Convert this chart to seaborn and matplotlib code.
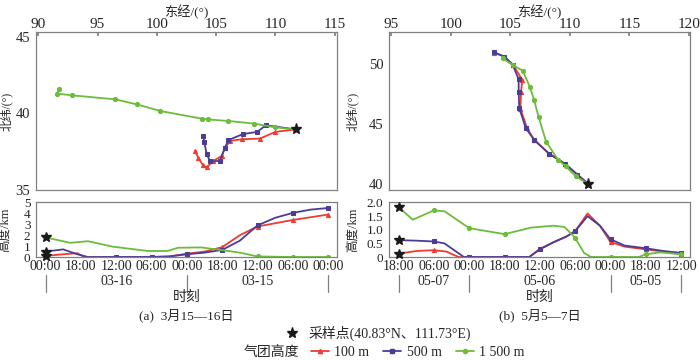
import numpy as np
import matplotlib
matplotlib.use("Agg")
import matplotlib.pyplot as plt
import seaborn as sns
from matplotlib.lines import Line2D
from matplotlib.transforms import blended_transform_factory

# 轨迹数据（经度, 纬度），起点为采样点
# (a) 3月15—16日
a_red_lon = [111.7, 110.0, 108.7, 107.15, 106.2, 105.75, 105.5, 104.77, 104.2, 103.9, 103.5, 103.2]
a_red_lat = [38.95, 38.79, 38.35, 38.31, 38.2, 37.77, 37.23, 36.9, 36.47, 36.6, 37.1, 37.55]
a_blue_lon = [111.7, 109.2, 108.47, 107.24, 106.03, 105.75, 105.3, 104.5, 104.2, 103.99, 103.93]
a_blue_lat = [38.95, 39.22, 38.79, 38.64, 38.25, 37.77, 36.9, 36.86, 37.34, 38.16, 38.53]
a_green_lon = [111.7, 110.0, 108.2, 106.0, 104.35, 103.8, 100.3, 98.3, 96.5, 92.86, 91.6, 91.73]
a_green_lat = [38.95, 39.08, 39.33, 39.5, 39.6, 39.65, 40.15, 40.58, 40.91, 41.17, 41.28, 41.57]

# (b) 5月5—7日
b_red_lon = [111.56, 110.64, 109.6, 108.27, 107.0, 106.4, 105.85, 105.9, 106.0, 105.25, 104.5, 103.6]
b_red_lat = [40.0, 40.78, 41.69, 42.52, 43.69, 44.67, 46.3, 47.72, 48.7, 49.94, 50.64, 50.98]
b_blue_lon = [111.56, 110.64, 109.6, 108.27, 107.0, 106.3, 105.75, 105.7, 105.7, 105.2, 104.5, 103.66]
b_blue_lat = [40.0, 40.78, 41.69, 42.52, 43.69, 44.67, 46.33, 47.72, 48.75, 49.94, 50.64, 51.0]
b_green_lon = [111.56, 110.5, 109.67, 109.0, 108.0, 107.37, 107.0, 106.65, 106.03, 105.2, 104.35]
b_green_lat = [40.0, 40.63, 41.47, 42.03, 43.55, 45.63, 47.0, 48.1, 49.47, 49.94, 50.5]

# 高度随时间（x 为 6 h 刻度序号）
a_red_t = [0, 0.5, 0.9, 1.1, 2, 3, 3.5, 4, 4.5, 5, 5.5, 6, 6.5, 7, 7.5, 8]
a_red_h = [0.1, 0.25, 0.35, 0, 0, 0, 0.05, 0.3, 0.5, 0.9, 2.0, 2.8, 3.1, 3.4, 3.65, 3.9]
a_blue_t = [0, 0.5, 0.9, 1.2, 2, 3, 3.5, 4, 4.5, 5, 5.5, 6, 6.5, 7, 7.5, 8]
a_blue_h = [0.5, 0.7, 0.25, 0, 0, 0, 0.05, 0.25, 0.4, 0.65, 1.5, 2.9, 3.6, 4.05, 4.35, 4.5]
a_green_t = [0, 0.7, 1.2, 1.9, 2.4, 2.9, 3.45, 3.75, 4.4, 4.95, 5.5, 6, 7, 8]
a_green_h = [1.8, 1.3, 1.45, 0.95, 0.75, 0.55, 0.55, 0.85, 0.88, 0.65, 0.4, 0.05, 0, 0]

b_red_t = [0, 0.5, 1.0, 1.35, 1.7, 2, 3, 3.7, 4, 4.4, 4.75, 5, 5.35, 5.7, 6, 6.4, 7, 7.5, 8]
b_red_h = [0.12, 0.22, 0.25, 0.2, 0, 0, 0, 0, 0.3, 0.55, 0.75, 0.95, 1.6, 1.15, 0.55, 0.38, 0.28, 0.2, 0.1]
b_blue_t = [0, 0.5, 1.0, 1.3, 1.85, 2, 3, 3.7, 4, 4.4, 4.75, 5, 5.35, 5.7, 6, 6.4, 7, 7.5, 8]
b_blue_h = [0.62, 0.6, 0.57, 0.5, 0, 0, 0, 0, 0.28, 0.55, 0.75, 0.95, 1.5, 1.15, 0.65, 0.42, 0.32, 0.22, 0.15]
b_green_t = [0, 0.4, 1.0, 1.3, 2, 3, 3.75, 4.4, 4.7, 5, 5.25, 5.45, 6, 6.8, 7, 7.4, 8]
b_green_h = [1.84, 1.37, 1.71, 1.68, 1.06, 0.84, 1.08, 1.15, 1.1, 0.7, 0.15, 0, 0, 0, 0.1, 0.17, 0.1]

a_time_labels = ["00:00", "18:00", "12:00", "06:00", "00:00", "18:00", "12:00", "06:00", "00:00"]
b_time_labels = ["18:00", "06:00", "00:00", "18:00", "12:00", "06:00", "00:00", "18:00", "12:00"]
a_dates = ["03-16", "03-15"]
a_date_bounds = [0, 4, 8]
b_dates = ["05-07", "05-06", "05-05"]
b_date_bounds = [0, 2, 6, 8]

RED = "#ee3b33"
BLUE = "#4b3c98"
GREEN = "#6cbd3a"
GRAY = "#808080"

sns.set_theme(style="white")
plt.rcParams["font.family"] = ["Liberation Serif", "Noto Sans CJK SC", "DejaVu Sans"]
plt.rcParams["axes.edgecolor"] = GRAY
plt.rcParams["axes.linewidth"] = 0.9

fig = plt.figure(figsize=(7, 3.6), dpi=100)


def style_axes(ax):
    for s in ax.spines.values():
        s.set_visible(True)
        s.set_color(GRAY)
    ax.tick_params(axis="y", direction="out", length=3, color=GRAY, labelsize=10, pad=1)


def traj_panel(rect, lons, lats, xlim, ylim, xticks, yticks):
    ax = fig.add_axes(rect)
    style_axes(ax)
    for lon, lat, c, m, ms in zip(lons, lats, [RED, BLUE, GREEN], ["^", "s", "o"], [3, 3.5, 3]):
        sns.lineplot(x=lon, y=lat, sort=False, estimator=None, color=c, lw=1.3,
                     marker=m, markersize=ms, markeredgecolor=c, ax=ax)
    ax.plot(lons[0][0], lats[0][0], marker="*", color="k", ms=8, zorder=5)
    ax.set_xlim(*xlim)
    ax.set_ylim(*ylim)
    ax.set_xticks(xticks)
    ax.set_yticks(yticks)
    ax.xaxis.tick_top()
    ax.xaxis.set_label_position("top")
    ax.tick_params(axis="x", direction="in", length=3, color=GRAY, labelsize=11, pad=1)
    ax.tick_params(axis="y", labelsize=10.5)
    ax.set_xlabel("东经/(°)", fontsize=9.5, labelpad=1)
    ax.set_ylabel("北纬/(°)", fontsize=8.5)
    return ax


def height_panel(rect, ts, hs, ylim, yticks, yticklabels, tlabels, dates, bounds, caption):
    ax = fig.add_axes(rect)
    style_axes(ax)
    for t, h, c, m, ms in zip(ts, hs, [RED, BLUE, GREEN], ["^", "s", "o"], [3, 3.5, 3]):
        mk = [i for i, v in enumerate(t) if float(v).is_integer()]
        sns.lineplot(x=t, y=h, sort=False, estimator=None, color=c, lw=1.3,
                     marker=m, markersize=ms, markeredgecolor=c, markevery=mk, ax=ax)
        ax.plot(t[0], h[0], marker="*", color="k", ms=7, zorder=5, clip_on=False)
    ax.set_xlim(-0.27, 8.25)
    ax.set_ylim(*ylim)
    ax.set_yticks(yticks)
    ax.set_yticklabels(yticklabels)
    ax.set_xticks(range(len(tlabels)))
    ax.set_xticklabels(tlabels)
    ax.tick_params(axis="x", direction="in", length=3, color=GRAY, labelsize=10, pad=2)
    ax.tick_params(axis="y", labelsize=9.5)
    ax.set_ylabel("高度/km", fontsize=9)
    tr = blended_transform_factory(ax.transData, ax.transAxes)
    for b in bounds:
        ax.plot([b, b], [-0.33, -0.64], transform=tr, clip_on=False, color=GRAY, lw=0.9)
    for d, lo, hi in zip(dates, bounds[:-1], bounds[1:]):
        ax.text((lo + hi) / 2, -0.45, d, transform=tr, ha="center", va="center", fontsize=10)
    ax.text(0.5, -0.74, "时刻", transform=ax.transAxes, ha="center", va="center", fontsize=10)
    ax.text(0.5, -1.06, caption, transform=ax.transAxes, ha="center", va="center", fontsize=9.5)
    return ax


ax1 = traj_panel([36 / 700, 1 - 190 / 360, 301 / 700, 158 / 360],
                 [a_red_lon, a_blue_lon, a_green_lon], [a_red_lat, a_blue_lat, a_green_lat],
                 (89.8, 115.2), (35, 45.3), range(90, 116, 5), [35, 40, 45])
ax1.yaxis.set_label_coords(-0.077, 0.5)
ax2 = traj_panel([389 / 700, 1 - 190 / 360, 301 / 700, 158 / 360],
                 [b_red_lon, b_blue_lon, b_green_lon], [b_red_lat, b_blue_lat, b_green_lat],
                 (94.8, 120.1), (39.5, 52.7), range(95, 121, 5), [40, 45, 50])
ax2.yaxis.set_label_coords(-0.1, 0.5)

ax3 = height_panel([36 / 700, 1 - 257 / 360, 301 / 700, 55 / 360],
                   [a_red_t, a_blue_t, a_green_t], [a_red_h, a_blue_h, a_green_h],
                   (0, 5.05), range(0, 6), [str(v) for v in range(0, 6)],
                   a_time_labels, a_dates, a_date_bounds, "(a)  3月15—16日")
ax3.yaxis.set_label_coords(-0.083, 0.5)
ax4 = height_panel([389 / 700, 1 - 257 / 360, 301 / 700, 55 / 360],
                   [b_red_t, b_blue_t, b_green_t], [b_red_h, b_blue_h, b_green_h],
                   (0, 2.02), [0, 0.5, 1.0, 1.5, 2.0], ["0", "0.5", "1.0", "1.5", "2.0"],
                   b_time_labels, b_dates, b_date_bounds, "(b)  5月5—7日")
ax4.yaxis.set_label_coords(-0.1, 0.5)

# 图例
star = Line2D([], [], marker="*", color="k", ls="none", ms=8)
fig.legend([star], ["采样点(40.83°N、111.73°E)"], loc="center", bbox_to_anchor=(0.535, 0.075),
           frameon=False, fontsize=10, handletextpad=0.2, borderpad=0)
hs = [Line2D([], [], color=c, marker=m, ms=3, lw=1.3) for c, m in zip([RED, BLUE, GREEN], ["^", "s", "o"])]
fig.legend(hs, ["100 m", "500 m", "1 500 m"], loc="center left", bbox_to_anchor=(0.434, 0.022), ncol=3,
           frameon=False, fontsize=10, handlelength=1.3, handletextpad=0.4, columnspacing=1.0, borderpad=0)
fig.text(0.428, 0.022, "气团高度", ha="right", va="center", fontsize=10)

fig.savefig("out.png", dpi=100)
